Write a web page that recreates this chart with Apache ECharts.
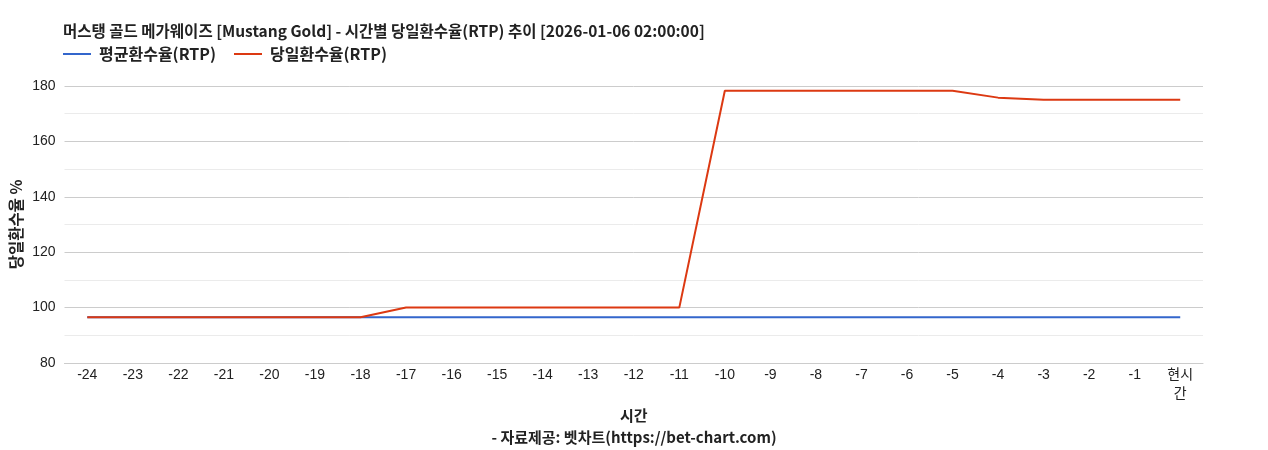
<!DOCTYPE html>
<html>
<head>
<meta charset="utf-8">
<script src="https://cdn.jsdelivr.net/npm/echarts@6/dist/echarts.min.js"></script>
<style>
  html, body { margin: 0; padding: 0; background: #fff; }
  #chart { width: 1268px; height: 450px; }
</style>
</head>
<body>
<div id="chart"></div>
<script>
// 시간 축 (카테고리)
const hours = ['-24', '-23', '-22', '-21', '-20', '-19', '-18', '-17', '-16', '-15', '-14', '-13',
               '-12', '-11', '-10', '-9', '-8', '-7', '-6', '-5', '-4', '-3', '-2', '-1', '현시간'];

// 평균환수율(RTP)
const avgRtp = [96.5, 96.5, 96.5, 96.5, 96.5, 96.5, 96.5, 96.5, 96.5, 96.5, 96.5, 96.5,
                96.5, 96.5, 96.5, 96.5, 96.5, 96.5, 96.5, 96.5, 96.5, 96.5, 96.5, 96.5, 96.5];

// 당일환수율(RTP)
const dailyRtp = [96.5, 96.5, 96.5, 96.5, 96.5, 96.5, 96.5, 100, 100, 100, 100, 100,
                  100, 100, 178.3, 178.3, 178.3, 178.3, 178.3, 178.3, 175.8, 175, 175, 175, 175];

const yTicks = { min: 80, max: 180, interval: 20 };

const FONT_KR = '"Noto Sans CJK KR", "Liberation Sans", sans-serif';
const FONT_TICK = '"Liberation Sans", "Noto Sans CJK KR", sans-serif';

const dom = document.getElementById('chart');
const myChart = echarts.init(dom);

const option = {
    animation: false,
    textStyle: { fontFamily: FONT_KR },
    title: [
        {
            text: '머스탱 골드 메가웨이즈 [Mustang Gold] - 시간별 당일환수율(RTP) 추이 [2026-01-06 02:00:00]',
            left: 58,
            top: 18,
            textStyle: { fontSize: 15.5, fontWeight: 'bold', color: '#222', fontFamily: FONT_KR }
        },
        {
            text: '- 자료제공: 벳차트(https://bet-chart.com)',
            left: 'center',
            top: 425,
            textStyle: { fontSize: 15, fontWeight: 'bold', color: '#222', fontFamily: FONT_KR }
        }
    ],
    legend: {
        data: ['평균환수율(RTP)', '당일환수율(RTP)'],
        left: 58,
        top: 41,
        icon: 'rect',
        itemWidth: 28,
        itemHeight: 2,
        itemGap: 18,
        textStyle: { fontSize: 16, fontWeight: 'bold', color: '#222', fontFamily: FONT_KR, padding: [0, 0, 0, 3] }
    },
    grid: {
        left: 63,
        right: 65,
        top: 86,
        bottom: 87,
        containLabel: false
    },
    xAxis: {
        type: 'category',
        data: hours,
        boundaryGap: true,
        name: '시간',
        nameLocation: 'middle',
        nameGap: 45,
        nameMoveOverlap: false,
        nameTextStyle: { fontSize: 15, fontWeight: 'bold', color: '#222', fontFamily: FONT_KR },
        axisLine: { lineStyle: { color: '#ccc' } },
        axisTick: { show: false },
        axisLabel: {
            color: '#222',
            fontSize: 14,
            fontFamily: FONT_TICK,
            margin: 3,
            lineHeight: 19,
            interval: 0,
            formatter: function (v) { return v === '현시간' ? '현시\n간' : v; }
        }
    },
    yAxis: {
        type: 'value',
        min: yTicks.min,
        max: yTicks.max,
        interval: yTicks.interval,
        name: '당일환수율 %',
        nameLocation: 'middle',
        nameGap: 41,
        nameMoveOverlap: false,
        nameRotate: 90,
        nameTextStyle: { fontSize: 15.5, fontWeight: 'bold', color: '#222', fontFamily: FONT_KR },
        axisLine: { show: false },
        axisTick: { show: false },
        axisLabel: { color: '#222', fontSize: 14, fontFamily: FONT_TICK, margin: 9 },
        splitLine: { lineStyle: { color: '#ccc', width: 1 } },
        minorTick: { show: false, splitNumber: 2 },
        minorSplitLine: { show: true, lineStyle: { color: '#ebebeb', width: 1 } }
    },
    series: [
        {
            name: '평균환수율(RTP)',
            type: 'line',
            data: avgRtp,
            showSymbol: false,
            symbol: 'none',
            lineStyle: { width: 2, color: '#3366cc' },
            itemStyle: { color: '#3366cc' },
            z: 1
        },
        {
            name: '당일환수율(RTP)',
            type: 'line',
            data: dailyRtp,
            showSymbol: false,
            symbol: 'none',
            lineStyle: { width: 2, color: '#dc3912' },
            itemStyle: { color: '#dc3912' },
            z: 2
        }
    ]
};

myChart.setOption(option, true);
window.addEventListener('resize', function() { myChart.resize(); });
</script>
</body>
</html>
